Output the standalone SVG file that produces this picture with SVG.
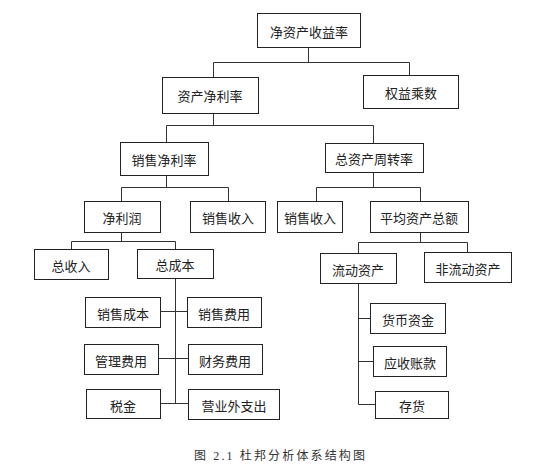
<svg xmlns="http://www.w3.org/2000/svg" width="552" height="469" viewBox="0 0 552 469">
<style>
.b{fill:#fff;stroke:#222;stroke-width:1}
.t{font-family:"Noto Sans CJK SC",sans-serif;font-size:13px;fill:#222;text-anchor:middle;dominant-baseline:central}
.c{fill:none;stroke:#333;stroke-width:1}
.cap{font-family:"Liberation Serif","Noto Sans CJK SC",serif;font-size:12px;fill:#333}
</style>
<rect width="552" height="469" fill="#fff"/>
<g id="connectors" class="c">
<path d="M308.5 47V62.5M213.5 62.5H409.5M213.5 62.5V77M409.5 62.5V75"/>
<path d="M213.5 113V125.5M166.5 125.5H373.5M166.5 125.5V143M373.5 125.5V143"/>
<path d="M166.5 175V187.5M121.5 187.5H228.5M121.5 187.5V201M228.5 187.5V201"/>
<path d="M373.5 172V187.5M316.5 187.5H420.5M316.5 187.5V201M420.5 187.5V201"/>
<path d="M121.5 232V241.5M71.5 241.5H175.5M71.5 241.5V249M175.5 241.5V249"/>
<path d="M175.5 278V403.5M160 311.5H187M158 358.5H188M160 403.5H188"/>
<path d="M420.5 232V242.5M358.5 242.5H467.5M358.5 242.5V253M467.5 242.5V252"/>
<path d="M358.5 283V404.5M358.5 318.5H370M358.5 361.5H373M358.5 404.5H375"/>
</g>
<g id="n1"><rect class="b" x="257.5" y="13.5" width="103" height="34"/><text class="t" x="309" y="31">净资产收益率</text></g>
<g id="n2"><rect class="b" x="162.5" y="77.5" width="96" height="36"/><text class="t" x="210" y="95">资产净利率</text></g>
<g id="n3"><rect class="b" x="363.5" y="75.5" width="95" height="33"/><text class="t" x="411" y="92">权益乘数</text></g>
<g id="n4"><rect class="b" x="120.5" y="142.5" width="88" height="33"/><text class="t" x="164" y="159">销售净利率</text></g>
<g id="n5"><rect class="b" x="325.5" y="143.5" width="98" height="29"/><text class="t" x="374" y="158">总资产周转率</text></g>
<g id="n6"><rect class="b" x="84.5" y="201.5" width="76" height="31"/><text class="t" x="122" y="217">净利润</text></g>
<g id="n7"><rect class="b" x="190.5" y="201.5" width="75" height="31"/><text class="t" x="228" y="217">销售收入</text></g>
<g id="n8"><rect class="b" x="277.5" y="201.5" width="65" height="31"/><text class="t" x="310" y="217">销售收入</text></g>
<g id="n9"><rect class="b" x="370.5" y="201.5" width="98" height="31"/><text class="t" x="419" y="217">平均资产总额</text></g>
<g id="n10"><rect class="b" x="34.5" y="249.5" width="74" height="30"/><text class="t" x="71" y="265">总收入</text></g>
<g id="n11"><rect class="b" x="137.5" y="249.5" width="76" height="29"/><text class="t" x="175" y="264">总成本</text></g>
<g id="n12"><rect class="b" x="85.5" y="297.5" width="75" height="30"/><text class="t" x="123" y="313">销售成本</text></g>
<g id="n13"><rect class="b" x="187.5" y="297.5" width="74" height="30"/><text class="t" x="224" y="313">销售费用</text></g>
<g id="n14"><rect class="b" x="84.5" y="344.5" width="74" height="30"/><text class="t" x="121" y="360">管理费用</text></g>
<g id="n15"><rect class="b" x="188.5" y="344.5" width="74" height="30"/><text class="t" x="225" y="360">财务费用</text></g>
<g id="n16"><rect class="b" x="86.5" y="389.5" width="74" height="29"/><text class="t" x="123" y="405">税金</text></g>
<g id="n17"><rect class="b" x="188.5" y="389.5" width="91" height="30"/><text class="t" x="234" y="405">营业外支出</text></g>
<g id="n18"><rect class="b" x="320.5" y="253.5" width="76" height="30"/><text class="t" x="358" y="269">流动资产</text></g>
<g id="n19"><rect class="b" x="424.5" y="252.5" width="87" height="30"/><text class="t" x="468" y="268">非流动资产</text></g>
<g id="n20"><rect class="b" x="370.5" y="303.5" width="75" height="30"/><text class="t" x="408" y="319">货币资金</text></g>
<g id="n21"><rect class="b" x="373.5" y="346.5" width="73" height="30"/><text class="t" x="410" y="362">应收账款</text></g>
<g id="n22"><rect class="b" x="375.5" y="391.5" width="73" height="27"/><text class="t" x="412" y="405">存货</text></g>
<text class="cap" x="194" y="460" textLength="171" lengthAdjust="spacing">图 2.1 杜邦分析体系结构图</text>
</svg>
